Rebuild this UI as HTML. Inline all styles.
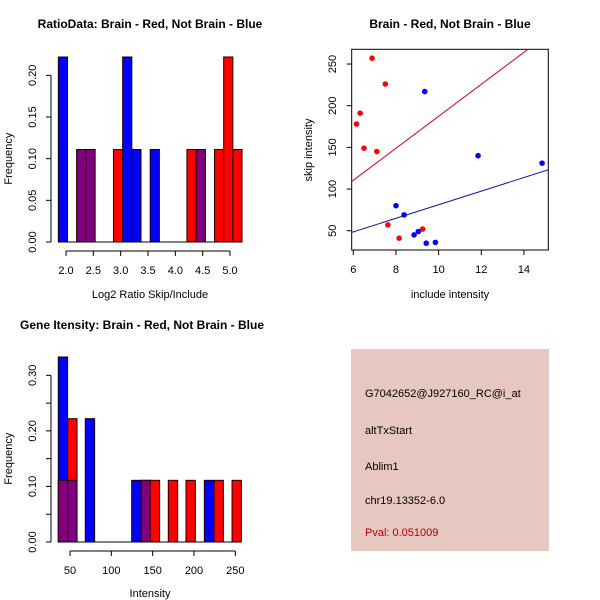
<!DOCTYPE html>
<html><head><meta charset="utf-8"><style>
body{margin:0;background:#fff}
svg{display:block;font-family:"Liberation Sans","DejaVu Sans",sans-serif}
</style></head><body>
<svg id="c" width="600" height="600" viewBox="0 0 600 600">
<rect width="600" height="600" fill="#fff"/>
<g id="p1"></g>
<g id="p2"></g>
<g id="p3"></g>
<g>
<rect x="351" y="349" width="198" height="202" fill="#e6c8c0"/>
<g font-size="11" fill="#000">
<text x="365" y="397">G7042652@J927160_RC@i_at</text>
<text x="365" y="434">altTxStart</text>
<text x="365" y="470">Ablim1</text>
<text x="365" y="504">chr19.13352-6.0</text>
<text x="365" y="536" fill="#b00000">Pval: 0.051009</text>
</g></g>
</svg>
<script>
// Top-left histogram data (bin left edges in log2 units)
const h1Bins=[1.86,2.196,2.364,2.868,3.036,3.204,3.54,4.212,4.38,4.716,4.884,5.052];
const h1Blue=[0.222,0.111,0.111,0,0.222,0.111,0.111,0,0.111,0,0,0];
const h1Red=[0,0.111,0.111,0.111,0,0,0,0.111,0.111,0.111,0.222,0.111];
const h1XTicks=[2.0,2.5,3.0,3.5,4.0,4.5,5.0];
const h1YTicks=[0,0.05,0.10,0.15,0.20];
// Scatter data
const redX=[6.15,6.32,6.5,6.88,7.1,7.5,7.62,8.15,9.25];
const redY=[178,191,149,257,145,226,57,41,52];
const blueX=[8.0,8.38,8.85,9.05,9.42,9.85,9.35,11.85,14.85];
const blueY=[80,69,45,49,35,36,217,140,131];
const redFit=[-4.7,19.2];
const blueFit=[-0.3,8.15];
const scXTicks=[6,8,10,12,14];
const scYTicks=[50,100,150,200,250];
// Bottom-left histogram data
const h3Bins=[35.8,47.2,68.5,124.6,135.9,147.1,168.9,190.3,212.5,224.2,246.0];
const h3Blue=[0.333,0.111,0.222,0.111,0.111,0,0,0,0.111,0,0];
const h3Red=[0.111,0.222,0,0,0.111,0.111,0.111,0.111,0,0.111,0.111];
const h3XTicks=[50,100,150,200,250];
const h3YTicks=[0,0.05,0.10,0.15,0.20,0.25,0.30];
const h3YLabels=["0.00","","0.10","","0.20","","0.30"];

const NS="http://www.w3.org/2000/svg";
function mk(parent,tag,attrs,text){const e=document.createElementNS(NS,tag);for(const k in attrs)e.setAttribute(k,attrs[k]);if(text!==undefined)e.textContent=text;parent.appendChild(e);return e;}

function hist(g,bins,w,blue,red,xs,ys,xTicks,yTicks,yLabels,title,titleX,titleY,xlab,xlabY,axisY){
  bins.forEach((b,i)=>{
    const bl=blue[i],rd=red[i];
    const hi=Math.max(bl,rd),lo=Math.min(bl,rd);
    if(hi>0){
      const r=mk(g,'rect',{x:xs(b),y:ys(hi),width:xs(b+w)-xs(b),height:ys(0)-ys(hi),fill:bl>=rd?'#0000ff':'#ff0000',stroke:'#200000','stroke-width':1});
      
      
    }
    if(lo>0){
      const r=mk(g,'rect',{x:xs(b),y:ys(lo),width:xs(b+w)-xs(b),height:ys(0)-ys(lo),fill:'#800080',stroke:'#200000','stroke-width':1});
      
      
    }
  });
  const base=mk(g,'line',{x1:xs(bins[0]),x2:xs(bins[bins.length-1]+w),y1:ys(0),y2:ys(0),stroke:'#000'});
  
  
  const xa=mk(g,'g',{});
  
  
  mk(xa,'line',{x1:xs(xTicks[0]),x2:xs(xTicks[xTicks.length-1]),y1:axisY,y2:axisY,stroke:'#000'});
  xTicks.forEach(t=>{mk(xa,'line',{x1:xs(t),x2:xs(t),y1:axisY,y2:axisY+5,stroke:'#000'});
    const tx=mk(xa,'text',{x:xs(t),y:axisY+23,'font-size':11,'text-anchor':'middle'},typeof t==='number'&&t<10?t.toFixed(1):String(t));
    
    });
  const ya=mk(g,'g',{});
  
  
  mk(ya,'line',{x1:51,x2:51,y1:ys(0),y2:ys(yTicks[yTicks.length-1]),stroke:'#000'});
  yTicks.forEach((t,i)=>{mk(ya,'line',{x1:46,x2:51,y1:ys(t),y2:ys(t),stroke:'#000'});
    const lab=yLabels?yLabels[i]:t.toFixed(2);
    if(lab){const tx=mk(ya,'text',{x:36,y:ys(t),'font-size':11,'text-anchor':'middle',transform:`rotate(-90 36 ${ys(t)})`},lab);
    
    }});
  const tt=mk(g,'text',{x:titleX,y:titleY,'font-size':12,'font-weight':'bold','text-anchor':'middle'},title);
  
  
  const xl=mk(g,'text',{x:150,y:xlabY,'font-size':11,'text-anchor':'middle'},xlab);
  
  
  const cy=(ys(0)+ys(yTicks[yTicks.length-1]))/2;
  const yl=mk(g,'text',{x:12,y:cy,'font-size':11,'text-anchor':'middle',transform:`rotate(-90 12 ${cy})`},'Frequency');
  
  
}

// Plot 1
const xs1=v=>66+(v-2)*54.67, ys1=v=>242-v*833.4;
hist(document.getElementById('p1'),h1Bins,0.168,h1Blue,h1Red,xs1,ys1,h1XTicks,h1YTicks,null,
 'RatioData: Brain - Red, Not Brain - Blue',150,28,'Log2 Ratio Skip/Include',298,251);

// Plot 3
const xs3=v=>70+(v-50)*0.8267, ys3=v=>542-v*555.6;
hist(document.getElementById('p3'),h3Bins,11.3,h3Blue,h3Red,xs3,ys3,h3XTicks,h3YTicks,h3YLabels,
 'Gene Itensity: Brain - Red, Not Brain - Blue',142,329,'Intensity',597,551);

// Plot 2 scatter
(function(){
  const g=document.getElementById('p2');
  const L=351.7,R=548.3,T=49.3,B=250;
  const xs=v=>353.3+(v-6)*21.33, ys=v=>230.7-(v-50)*0.8333;
  const cp=mk(g,'clipPath',{id:'clip2'});mk(cp,'rect',{x:L,y:T,width:R-L,height:B-T});
  const box=mk(g,'rect',{x:L,y:T,width:R-L,height:B-T,fill:'none',stroke:'#000'});
  
  
  const x0=(L-353.3)/21.33+6, x1=(R-353.3)/21.33+6;
  [[redFit,'#d00020','red-fit-line'],[blueFit,'#1a1aa0','blue-fit-line']].forEach(([f,c,n])=>{
    const ln=mk(g,'line',{x1:xs(x0),y1:ys(f[0]+f[1]*x0),x2:xs(x1),y2:ys(f[0]+f[1]*x1),stroke:c,'stroke-width':1,'clip-path':'url(#clip2)'});
    
    
  });
  redX.forEach((x,i)=>{const c=mk(g,'circle',{cx:xs(x),cy:ys(redY[i]),r:2.8,fill:'#ff0000'});
    
    });
  blueX.forEach((x,i)=>{const c=mk(g,'circle',{cx:xs(x),cy:ys(blueY[i]),r:2.8,fill:'#0000ff'});
    
    });
  scXTicks.forEach(t=>{mk(g,'line',{x1:xs(t),x2:xs(t),y1:B,y2:B+5,stroke:'#000'});
    const tx=mk(g,'text',{x:xs(t),y:B+23,'font-size':11,'text-anchor':'middle'},String(t));
    
    });
  scYTicks.forEach(t=>{mk(g,'line',{x1:L-5,x2:L,y1:ys(t),y2:ys(t),stroke:'#000'});
    const tx=mk(g,'text',{x:336,y:ys(t),'font-size':11,'text-anchor':'middle',transform:`rotate(-90 336 ${ys(t)})`},String(t));
    
    });
  const tt=mk(g,'text',{x:450,y:28,'font-size':12,'font-weight':'bold','text-anchor':'middle'},'Brain - Red, Not Brain - Blue');
  
  
  const xl=mk(g,'text',{x:450,y:298,'font-size':11,'text-anchor':'middle'},'include intensity');
  
  
  const yl=mk(g,'text',{x:312,y:150,'font-size':11,'text-anchor':'middle',transform:'rotate(-90 312 150)'},'skip intensity');
  
  
})();
</script>
</body></html>
